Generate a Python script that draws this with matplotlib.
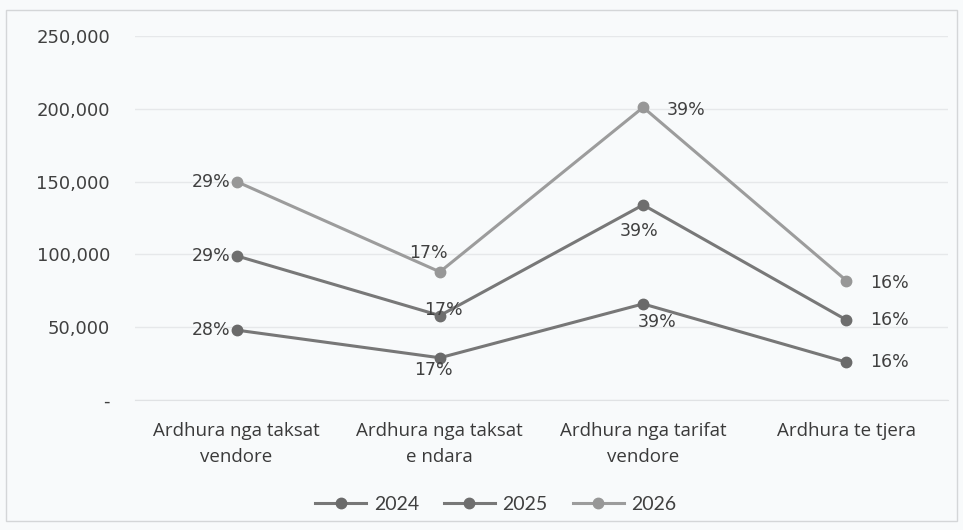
import matplotlib.pyplot as plt
from matplotlib.patches import Rectangle
from matplotlib.ticker import FuncFormatter
import numpy as np

# datos del gráfico
categorias = ["Ardhura nga taksat\nvendore", "Ardhura nga taksat\ne ndara",
              "Ardhura nga tarifat\nvendore", "Ardhura te tjera"]
anios = ["2024", "2025", "2026"]
v2024 = [48000, 29000, 66000, 26000]
v2025 = [99000, 58000, 134000, 55000]
v2026 = [150000, 88000, 201000, 82000]
p2024 = ["28%", "17%", "39%", "16%"]
p2025 = ["29%", "17%", "39%", "16%"]
p2026 = ["29%", "17%", "39%", "16%"]

series = [v2024, v2025, v2026]
porcentajes = [p2024, p2025, p2026]

# estilo
colores_linea = ["#777777", "#787878", "#9c9c9c"]
colores_marca = ["#6a6a6a", "#6e6e6e", "#979797"]
# desplazamiento de etiquetas en pixeles (dx, dy, ha)
posiciones = [
    [(-6, 0, "right"), (-6, -12, "center"), (14, -18, "center"), (24, 0, "left")],
    [(-6, 0, "right"), (4, 6, "center"), (-4, -26, "center"), (24, 0, "left")],
    [(-6, 0, "right"), (-11, 19, "center"), (24, -3, "left"), (24, -2, "left")],
]

fondo = "#f8fafb"
fig = plt.figure(figsize=(9.63, 5.30), dpi=100, facecolor=fondo)
fig.patches.append(Rectangle((6 / 963, 9 / 530), 951 / 963, 511 / 530,
                             transform=fig.transFigure, fill=False,
                             edgecolor="#d4d6d8", lw=1))

ax = fig.add_axes([135 / 963, 130 / 530, 813 / 963, 364 / 530])
ax.set_facecolor(fondo)

x = np.arange(len(categorias))
for i, vals in enumerate(series):
    ax.plot(x, vals, color=colores_linea[i], lw=2.2, marker="o", markersize=7.5,
            markerfacecolor=colores_marca[i], markeredgecolor=colores_marca[i],
            label=anios[i], zorder=3)
    for j, v in enumerate(vals):
        dx, dy, ha = posiciones[i][j]
        ax.annotate(porcentajes[i][j], (x[j], v), xytext=(dx * 0.72, dy * 0.72),
                    textcoords="offset points", ha=ha, va="center",
                    fontsize=12.5, color="#404040", family="DejaVu Sans", zorder=4)

ax.set_xlim(-0.5, 3.5)
ax.set_ylim(0, 250000)
ax.set_yticks(np.arange(0, 250001, 50000))
ax.yaxis.set_major_formatter(FuncFormatter(lambda v, p: "-" if v == 0 else f"{v:,.0f}"))
ax.grid(axis="y", color="#e6e8ea", lw=1)
ax.set_axisbelow(True)
for s in ["top", "right", "left"]:
    ax.spines[s].set_visible(False)
ax.spines["bottom"].set_color("#e0e2e4")

ax.set_xticks(x)
ax.set_xticklabels(categorias, fontsize=13.5, family="Open Sans", color="#3a3a3a", linespacing=1.55)
ax.tick_params(axis="x", length=0, pad=16)
ax.tick_params(axis="y", length=0, pad=18, labelsize=13, labelcolor="#404040")
for t in ax.get_yticklabels():
    t.set_family("DejaVu Sans")

fig.legend(loc="center", bbox_to_anchor=(496 / 963, 26 / 530), ncol=3, frameon=False,
           prop={"family": "Lato", "size": 14}, handlelength=2.6, columnspacing=1.3,
           handletextpad=0.4, labelcolor="#404040", markerscale=1.0)

fig.savefig("out.png", dpi=100, facecolor=fondo)
